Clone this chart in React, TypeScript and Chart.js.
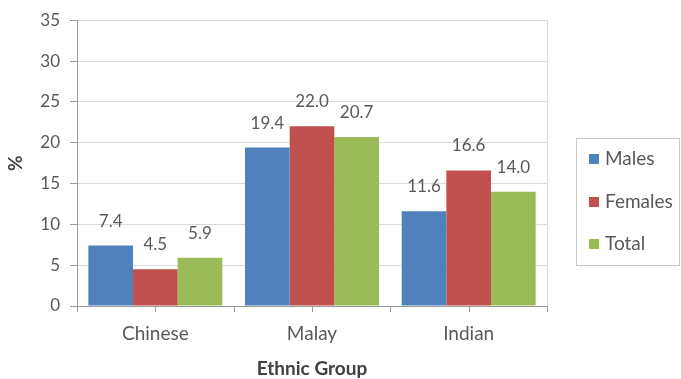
import React, { useEffect, useRef } from "react";
import { Chart, registerables } from "chart.js";

Chart.register(...registerables);

const categories = ["Chinese", "Malay", "Indian"];
const males = [7.4, 19.4, 11.6];
const females = [4.5, 22.0, 16.6];
const total = [5.9, 20.7, 14.0];
const seriesLabels = ["Males", "Females", "Total"];
const seriesColors = ["#4F81BD", "#C0504D", "#9BBB59"];
const xTitle = "Ethnic Group";

const FONT = "Lato, 'Open Sans', sans-serif";
const TEXT = "#595959";
const AXIS = "#9a9a9a";
const GRID = "#d9d9d9";

// Value labels above each bar, plot frame, x tick marks, x title and a boxed legend
const decorations = {
  id: "decorations",
  afterDatasetsDraw(chart: any) {
    const ctx = chart.ctx;
    const area = chart.chartArea;
    const x = chart.scales.x;

    ctx.save();
    // right frame line of the plot area
    ctx.strokeStyle = GRID;
    ctx.lineWidth = 1;
    ctx.beginPath();
    ctx.moveTo(Math.round(area.right) + 0.5, area.top);
    ctx.lineTo(Math.round(area.right) + 0.5, area.bottom);
    ctx.stroke();

    // x tick marks at category boundaries and centres
    ctx.strokeStyle = AXIS;
    ctx.beginPath();
    const n = categories.length;
    const half = (x.getPixelForValue(1) - x.getPixelForValue(0)) / 2;
    for (let i = 0; i < n; i++) {
      const c = x.getPixelForValue(i);
      const marks = [c - half, c];
      if (i === n - 1) marks.push(c + half);
      marks.forEach((px: number) => {
        const xx = Math.round(px) + 0.5;
        ctx.moveTo(xx, area.bottom);
        ctx.lineTo(xx, area.bottom + 6);
      });
    }
    ctx.stroke();

    // value labels
    ctx.fillStyle = TEXT;
    ctx.font = `17px ${FONT}`;
    ctx.textAlign = "center";
    ctx.textBaseline = "bottom";
    chart.data.datasets.forEach((ds: any, di: number) => {
      const meta = chart.getDatasetMeta(di);
      meta.data.forEach((bar: any, i: number) => {
        ctx.fillText(ds.data[i].toFixed(1), bar.x, bar.y - 16);
      });
    });

    // x axis title
    ctx.fillStyle = "#404040";
    ctx.font = `bold 19px ${FONT}`;
    ctx.textBaseline = "middle";
    ctx.fillText(xTitle, (area.left + area.right) / 2, 369);

    // legend
    const lx = 576, ly = 138, lw = 103, lh = 127;
    ctx.strokeStyle = "#c8c8c8";
    ctx.strokeRect(lx + 0.5, ly + 0.5, lw, lh);
    ctx.font = `19px ${FONT}`;
    ctx.textAlign = "left";
    ctx.textBaseline = "middle";
    const rows = [159, 202, 244];
    chart.data.datasets.forEach((ds: any, di: number) => {
      const cy = rows[di];
      ctx.fillStyle = ds.backgroundColor;
      ctx.fillRect(589, cy - 5, 10, 10);
      ctx.fillStyle = TEXT;
      ctx.fillText(ds.label, 605, cy);
    });
    ctx.restore();
  },
};

export default function App() {
  const canvasRef = useRef<HTMLCanvasElement | null>(null);

  useEffect(() => {
    if (!canvasRef.current) return;
    const values = [males, females, total];
    const chart = new Chart(canvasRef.current, {
      type: "bar",
      data: {
        labels: categories,
        datasets: values.map((v, i) => ({
          label: seriesLabels[i],
          data: v,
          backgroundColor: seriesColors[i],
          borderWidth: 0,
          barPercentage: 1,
          categoryPercentage: 0.855,
        })),
      },
      options: {
        animation: false,
        responsive: false,
        maintainAspectRatio: false,
        layout: { padding: { top: 18, right: 134, left: 0, bottom: 0 } },
        plugins: {
          legend: { display: false },
          tooltip: { enabled: false },
        },
        scales: {
          x: {
            grid: { display: false },
            border: { display: true, color: AXIS },
            ticks: { color: TEXT, font: { family: FONT, size: 19 }, padding: 8 },
            afterFit: (s: any) => {
              s.height = 73;
            },
          },
          y: {
            min: 0,
            max: 35,
            ticks: {
              stepSize: 5,
              color: TEXT,
              font: { family: FONT, size: 17 },
              padding: 10,
            },
            grid: { color: GRID, tickColor: AXIS, tickLength: 7 },
            border: { display: true, color: AXIS },
            title: {
              display: true,
              text: "%",
              color: "#404040",
              font: { family: FONT, size: 19, weight: "bold" },
              padding: { top: 4, bottom: 4 },
            },
            afterFit: (s: any) => {
              s.width = 77;
            },
          },
        },
      },
      plugins: [decorations],
    });
    return () => chart.destroy();
  }, []);

  return (
    <div style={{ position: "fixed", left: 0, top: 0, width: 681, height: 379, background: "#fff" }}>
      <canvas ref={canvasRef} width={681} height={379} />
    </div>
  );
}
